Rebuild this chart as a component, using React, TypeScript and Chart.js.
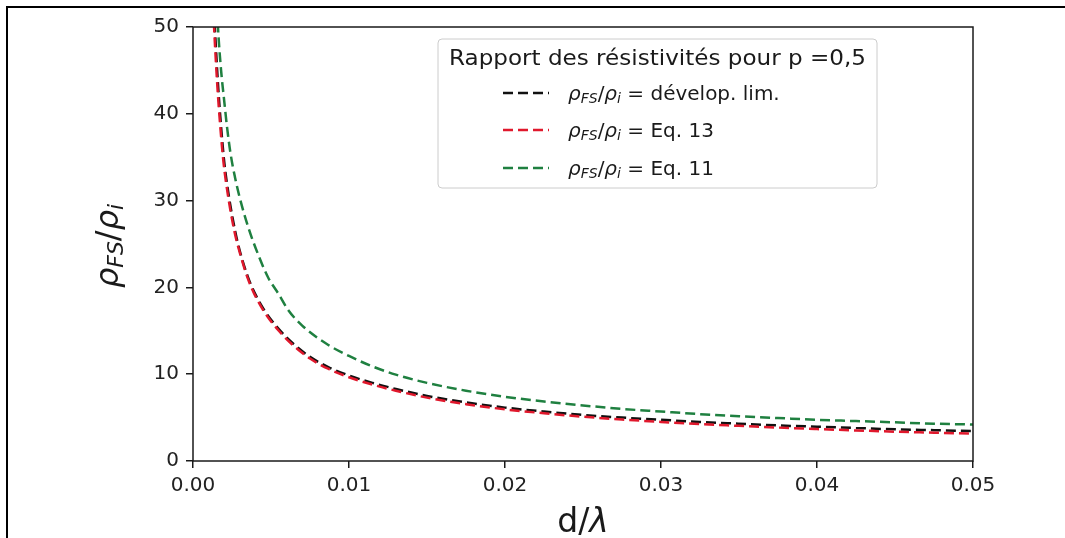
import React, { useEffect, useRef } from "react";
import { Chart, registerables } from "chart.js";

Chart.register(...registerables);

// ---- data ----
const devX = [0.0013, 0.0014, 0.0016, 0.0018, 0.002, 0.0023, 0.0027, 0.003, 0.0035, 0.004, 0.0046, 0.0055, 0.0065, 0.0075, 0.0087, 0.01, 0.0115, 0.013, 0.015, 0.0175, 0.02, 0.0225, 0.025, 0.0275, 0.03, 0.0325, 0.035, 0.0375, 0.04, 0.0425, 0.045, 0.0475, 0.05];
const devY = [54, 50, 43.5, 38.5, 34.5, 30.5, 26.5, 24.2, 21.3, 19.2, 17.3, 15.2, 13.4, 12.0, 10.8, 9.85, 9.0, 8.3, 7.5, 6.75, 6.15, 5.7, 5.3, 5.0, 4.75, 4.5, 4.3, 4.1, 3.95, 3.8, 3.65, 3.55, 3.45];

const eq13X = [0.00125, 0.00135, 0.00155, 0.00175, 0.00195, 0.00225, 0.00265, 0.003, 0.0035, 0.004, 0.0046, 0.0055, 0.0065, 0.0075, 0.0087, 0.01, 0.0115, 0.013, 0.015, 0.0175, 0.02, 0.0225, 0.025, 0.0275, 0.03, 0.0325, 0.035, 0.0375, 0.04, 0.0425, 0.045, 0.0475, 0.05];
const eq13Y = [54, 50, 43.5, 38.5, 34.5, 30.5, 26.5, 24.0, 21.1, 19.0, 17.1, 15.0, 13.2, 11.8, 10.6, 9.65, 8.8, 8.1, 7.3, 6.55, 5.95, 5.5, 5.1, 4.78, 4.5, 4.25, 4.05, 3.85, 3.68, 3.52, 3.38, 3.26, 3.15];

const eq11X = [0.0015, 0.0016, 0.0018, 0.002, 0.00218, 0.0024, 0.00269, 0.003, 0.00353, 0.004, 0.0048, 0.0055, 0.0061, 0.007, 0.00865, 0.01, 0.0115, 0.013, 0.015, 0.0175, 0.02, 0.0225, 0.025, 0.0275, 0.03, 0.0325, 0.035, 0.0375, 0.04, 0.0425, 0.045, 0.0475, 0.05];
const eq11Y = [54, 50, 45, 41.5, 38.5, 35.5, 32.7, 30.3, 27.0, 24.6, 21.2, 19.2, 17.4, 15.6, 13.4, 12.1, 10.9, 9.95, 9.0, 8.1, 7.4, 6.85, 6.4, 6.0, 5.7, 5.4, 5.15, 4.95, 4.75, 4.6, 4.45, 4.3, 4.2];

const xTicks = [0, 0.01, 0.02, 0.03, 0.04, 0.05];
const yTicks = [0, 10, 20, 30, 40, 50];

const legendTitle = "Rapport des résistivités pour p =0,5";
const seriesNames = ["dévelop. lim.", "Eq. 13", "Eq. 11"];
const seriesColors = ["#111111", "#e0182c", "#1f8040"];

const FAMILY = '"DejaVu Sans", sans-serif';

type Piece = { t: string; font: string; dy: number };

function drawPieces(ctx: CanvasRenderingContext2D, x: number, y: number, pieces: Piece[]) {
  let cx = x;
  for (const p of pieces) {
    ctx.font = p.font;
    ctx.fillText(p.t, cx, y + p.dy);
    cx += ctx.measureText(p.t).width;
  }
  return cx;
}

function piecesWidth(ctx: CanvasRenderingContext2D, pieces: Piece[]) {
  let w = 0;
  for (const p of pieces) {
    ctx.font = p.font;
    w += ctx.measureText(p.t).width;
  }
  return w;
}

function rhoRatio(size: number): Piece[] {
  const sub = Math.round(size * 0.7);
  return [
    { t: "ρ", font: `italic ${size}px ${FAMILY}`, dy: 0 },
    { t: "FS", font: `italic ${sub}px ${FAMILY}`, dy: size * 0.15 },
    { t: "/", font: `${size}px ${FAMILY}`, dy: 0 },
    { t: "ρ", font: `italic ${size}px ${FAMILY}`, dy: 0 },
    { t: "i", font: `italic ${sub}px ${FAMILY}`, dy: size * 0.15 },
  ];
}

const overlay = {
  id: "overlay",
  afterDraw(chart: any) {
    const ctx: CanvasRenderingContext2D = chart.ctx;
    const a = chart.chartArea;
    ctx.save();

    // axes frame
    ctx.strokeStyle = "#1a1a1a";
    ctx.lineWidth = 1.5;
    ctx.strokeRect(a.left, a.top, a.right - a.left, a.bottom - a.top);

    // x title
    ctx.fillStyle = "#1a1a1a";
    ctx.textBaseline = "alphabetic";
    ctx.textAlign = "left";
    const xt: Piece[] = [
      { t: "d/", font: `33px ${FAMILY}`, dy: 0 },
      { t: "λ", font: `italic 33px ${FAMILY}`, dy: 0 },
    ];
    const xw = piecesWidth(ctx, xt);
    drawPieces(ctx, (a.left + a.right) / 2 - xw / 2, a.bottom + 71, xt);

    // y title (rotated)
    const yt = rhoRatio(32);
    const yw = piecesWidth(ctx, yt);
    ctx.save();
    ctx.translate(a.left - 75, (a.top + a.bottom) / 2 + 2);
    ctx.rotate(-Math.PI / 2);
    drawPieces(ctx, -yw / 2, 0, yt);
    ctx.restore();

    // legend box
    const bx = a.left + 245;
    const by = a.top + 12;
    const bw = 439;
    const bh = 149;
    ctx.beginPath();
    (ctx as any).roundRect(bx, by, bw, bh, 4);
    ctx.fillStyle = "rgba(255,255,255,0.85)";
    ctx.fill();
    ctx.strokeStyle = "#cccccc";
    ctx.lineWidth = 1;
    ctx.stroke();

    // legend title
    ctx.fillStyle = "#1a1a1a";
    ctx.font = `21px ${FAMILY}`;
    const tw = ctx.measureText(legendTitle).width;
    const target = 417;
    ctx.save();
    ctx.translate(bx + bw / 2, by + 26);
    ctx.scale(target / tw, 1);
    ctx.textAlign = "center";
    ctx.fillText(legendTitle, 0, 0);
    ctx.restore();

    // legend entries
    const rowY = [by + 54, by + 91, by + 129];
    chart.data.datasets.forEach((ds: any, i: number) => {
      const y = rowY[i];
      ctx.save();
      ctx.strokeStyle = ds.borderColor;
      ctx.lineWidth = ds.borderWidth;
      ctx.setLineDash(ds.borderDash);
      ctx.beginPath();
      ctx.moveTo(bx + 65, y);
      ctx.lineTo(bx + 111, y);
      ctx.stroke();
      ctx.restore();
      ctx.fillStyle = "#1a1a1a";
      ctx.textAlign = "left";
      const pieces: Piece[] = [
        ...rhoRatio(20),
        { t: " = " + seriesNames[i], font: `20px ${FAMILY}`, dy: 0 },
      ];
      drawPieces(ctx, bx + 130, y + 7, pieces);
    });

    ctx.restore();
  },
};

function toPoints(xs: number[], ys: number[]) {
  return xs.map((x, i) => ({ x, y: ys[i] }));
}

export default function App() {
  const ref = useRef<HTMLCanvasElement | null>(null);

  useEffect(() => {
    if (!ref.current) return;
    const mk = (i: number, xs: number[], ys: number[], order: number) => ({
      label: seriesNames[i],
      data: toPoints(xs, ys),
      borderColor: seriesColors[i],
      backgroundColor: seriesColors[i],
      borderWidth: 2.5,
      borderDash: [10, 5],
      pointRadius: 0,
      fill: false,
      cubicInterpolationMode: "monotone" as const,
      order,
    });
    const tickFont = { family: FAMILY, size: 20 };
    const chart = new Chart(ref.current, {
      type: "line",
      data: {
        datasets: [
          mk(0, devX, devY, 3),
          mk(1, eq13X, eq13Y, 2),
          mk(2, eq11X, eq11Y, 1),
        ],
      },
      options: {
        animation: false,
        responsive: false,
        devicePixelRatio: 1,
        parsing: false as any,
        layout: { padding: { left: 93, right: 92, top: 27, bottom: 17 } },
        plugins: { legend: { display: false }, tooltip: { enabled: false } },
        scales: {
          x: {
            type: "linear",
            min: 0,
            max: 0.05,
            afterBuildTicks: (s: any) => {
              s.ticks = xTicks.map((v) => ({ value: v }));
            },
            afterFit: (s: any) => {
              s.height = 60;
              s.paddingLeft = 0;
              s.paddingRight = 0;
            },
            ticks: {
              callback: (v: any) => Number(v).toFixed(2),
              font: tickFont,
              color: "#222222",
              padding: 6,
              maxRotation: 0,
              autoSkip: false,
            },
            grid: { drawOnChartArea: false, drawTicks: true, tickLength: 7, color: "#1a1a1a", lineWidth: 1.5 },
            border: { display: false },
          },
          y: {
            type: "linear",
            min: 0,
            max: 50,
            afterBuildTicks: (s: any) => {
              s.ticks = yTicks.map((v) => ({ value: v }));
            },
            afterFit: (s: any) => {
              s.width = 100;
              s.paddingTop = 0;
              s.paddingBottom = 0;
            },
            ticks: {
              callback: (v: any) => String(v),
              font: tickFont,
              color: "#222222",
              padding: 7,
              autoSkip: false,
            },
            grid: { drawOnChartArea: false, drawTicks: true, tickLength: 7, color: "#1a1a1a", lineWidth: 1.5 },
            border: { display: false },
          },
        },
      },
      plugins: [overlay],
    } as any);
    return () => chart.destroy();
  }, []);

  return (
    <div style={{ position: "fixed", left: 0, top: 0, width: 1065, height: 538, overflow: "hidden", background: "#fff" }}>
      <div
        style={{
          position: "absolute",
          left: 6,
          top: 6,
          width: 1059,
          height: 532,
          borderTop: "2px solid #000",
          borderLeft: "2px solid #000",
          boxSizing: "border-box",
        }}
      />
      <canvas ref={ref} width={1065} height={538} style={{ position: "absolute", left: 0, top: 0, width: 1065, height: 538 }} />
    </div>
  );
}
